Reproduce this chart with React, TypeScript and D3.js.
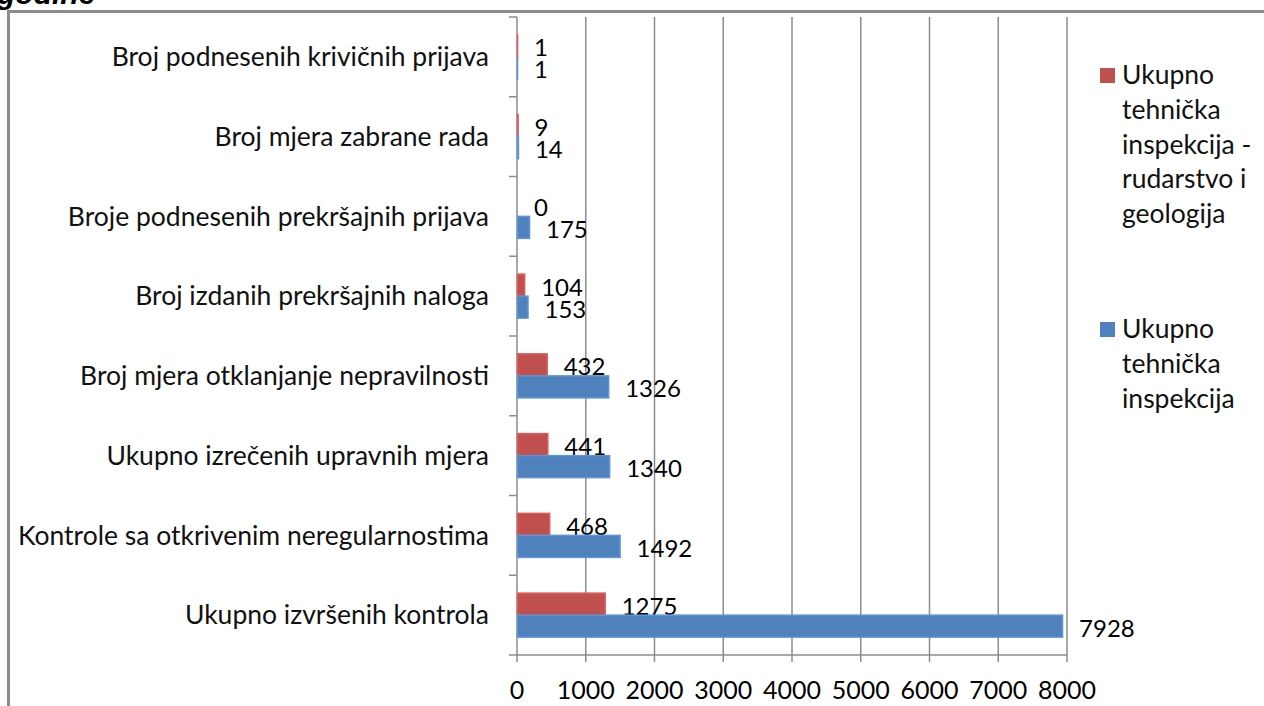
import React from 'react';
import * as d3 from 'd3';

const categories = [
  'Broj podnesenih krivičnih prijava',
  'Broj mjera zabrane rada',
  'Broje podnesenih prekršajnih prijava',
  'Broj izdanih prekršajnih naloga',
  'Broj mjera otklanjanje nepravilnosti',
  'Ukupno izrečenih upravnih mjera',
  'Kontrole sa otkrivenim neregularnostima',
  'Ukupno izvršenih kontrola',
];
const rudarstvo = [1, 9, 0, 104, 432, 441, 468, 1275];
const ukupno = [1, 14, 175, 153, 1326, 1340, 1492, 7928];
const xTicks = [0, 1000, 2000, 3000, 4000, 5000, 6000, 7000, 8000];
const seriesNames = [
  ['Ukupno', 'tehnička', 'inspekcija -', 'rudarstvo i', 'geologija'],
  ['Ukupno', 'tehnička', 'inspekcija'],
];
const colors = ['#C0504D', '#4F81BD'];

const W = 1264;
const H = 706;
const font = 'Lato, "Open Sans", sans-serif';
const grid = '#8c8c8c';

export default function App() {
  const left = 517;
  const right = 1067;
  const top = 17;
  const bottom = 655;

  const x = d3.scaleLinear().domain([0, 8000]).range([left, right]);
  const y = d3
    .scaleBand<string>()
    .domain(categories)
    .range([top, bottom])
    .paddingInner(0.448)
    .paddingOuter(0.224);
  const inner = d3
    .scaleBand<number>()
    .domain([0, 1])
    .range([0, y.bandwidth()]);
  const step = y.step();
  const series = [rudarstvo, ukupno];

  return (
    <div style={{ position: 'absolute', left: 0, top: 0 }}>
      <svg width={W} height={H} style={{ display: 'block', background: '#fff' }}>
        <text
          x={-3}
          y={4}
          fontFamily='"Liberation Sans", Arial, sans-serif'
          fontWeight="bold"
          fontStyle="italic"
          fontSize={30}
          fill="#000"
        >
          godine
        </text>
        {/* outer frame, cut at right and bottom */}
        <path d={`M8.5,${H + 2}V11.5H${W + 2}`} fill="none" stroke={grid} strokeWidth={3} />

        {/* grid */}
        {xTicks.map((t) => (
          <g key={t}>
            <line x1={x(t)} x2={x(t)} y1={top} y2={bottom + 7} stroke={grid} strokeWidth={1.5} />
            <text
              x={x(t)}
              y={bottom + 44}
              textAnchor="middle"
              fontFamily={font}
              fontSize={25}
              fill="#000"
            >
              {t}
            </text>
          </g>
        ))}
        <line x1={left} x2={right} y1={bottom} y2={bottom} stroke={grid} strokeWidth={1.5} />
        {d3.range(categories.length + 1).map((i) => (
          <line
            key={i}
            x1={left - 8}
            x2={left}
            y1={top + i * step}
            y2={top + i * step}
            stroke={grid}
            strokeWidth={1.5}
          />
        ))}

        {/* bars */}
        {categories.map((c, i) => (
          <g key={c}>
            <text
              x={489}
              y={(y(c) ?? 0) + y.bandwidth() / 2}
              dy="0.35em"
              textAnchor="end"
              fontFamily={font}
              fontSize={26.5}
              fill="#111"
            >
              {c}
            </text>
            {series.map((s, k) => {
              const by = (y(c) ?? 0) + (inner(k) ?? 0);
              return (
                <g key={k}>
                  <rect
                    x={x(0) + 0.5}
                    y={by}
                    width={x(s[i]) - x(0)}
                    height={inner.bandwidth()}
                    fill={colors[k]}
                    stroke={s[i] > 0 ? d3.color(colors[k])?.brighter(0.4).toString() : 'none'}
                    strokeWidth={1.5}
                  />
                  <text
                    x={x(s[i]) + 17}
                    y={by + inner.bandwidth() / 2 + 2}
                    dy="0.35em"
                    fontFamily={font}
                    fontSize={24}
                    fill="#000"
                  >
                    {s[i]}
                  </text>
                </g>
              );
            })}
          </g>
        ))}

        {/* legend */}
        {seriesNames.map((lines, k) => {
          const ly = k === 0 ? 84 : 338;
          return (
            <g key={k}>
              <rect x={1100} y={ly - 16} width={15} height={15} fill={colors[k]} />
              {lines.map((ln, j) => (
                <text
                  key={j}
                  x={1122}
                  y={ly + j * 34.8}
                  fontFamily={font}
                  fontSize={26.5}
                  fill="#111"
                >
                  {ln}
                </text>
              ))}
            </g>
          );
        })}
      </svg>
    </div>
  );
}
